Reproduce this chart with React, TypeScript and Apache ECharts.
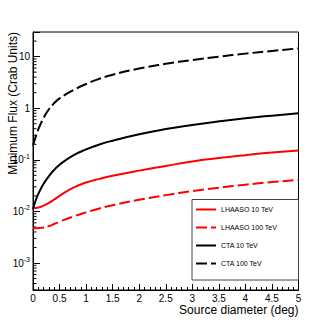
import React, { useEffect, useRef } from "react";
import * as echarts from "echarts";

const diameters = [0, 0.05, 0.1, 0.15, 0.2, 0.3, 0.4, 0.5, 0.75, 1, 1.25, 1.5, 2, 2.5, 3, 3.5, 4, 4.5, 5];
const lhaaso10 = [0.0116, 0.01167, 0.0119, 0.0123, 0.0129, 0.0146, 0.017, 0.02, 0.0285, 0.0363, 0.0427, 0.049, 0.0617, 0.076, 0.093, 0.108, 0.123, 0.138, 0.152];
const lhaaso100 = [0.0047, 0.0047, 0.00475, 0.0048, 0.0049, 0.0052, 0.0057, 0.0063, 0.0079, 0.0096, 0.0114, 0.0132, 0.0168, 0.0207, 0.0248, 0.0288, 0.033, 0.037, 0.041];
const cta10 = [0.011, 0.0163, 0.0219, 0.0279, 0.0344, 0.0485, 0.064, 0.0805, 0.1205, 0.159, 0.198, 0.235, 0.313, 0.394, 0.474, 0.557, 0.64, 0.718, 0.796];
const cta100 = [0.19, 0.279, 0.389, 0.513, 0.653, 0.955, 1.259, 1.549, 2.213, 2.951, 3.715, 4.467, 5.888, 7.244, 8.61, 10.0, 11.43, 12.88, 14.45];

const seriesNames = ["LHAASO 10 TeV", "LHAASO 100 TeV", "CTA 10 TeV", "CTA 100 TeV"];
const xTitle = "Source diameter (deg)";
const yTitle = "Minimum Flux (Crab Units)";
const yMin = 3e-4;
const yMax = 30;
const minorMultipliers = [2, 3, 4, 5, 6, 7, 8, 9];
const decades = [1e-4, 1e-3, 1e-2, 1e-1, 1, 10];

const FONT = "'Liberation Sans', Arial, Helvetica, sans-serif";

export default function App() {
  const ref = useRef<HTMLDivElement>(null);
  useEffect(() => {
    if (!ref.current) return;
    const chart = echarts.init(ref.current, null, { renderer: "svg" });
    const pairs = (ys: number[]) => diameters.map((d, i) => [d, ys[i]]);
    const minorVals: number[][] = [];
    decades.forEach((dec) =>
      minorMultipliers.forEach((m) => {
        const v = m * dec;
        if (v > yMin && v < yMax) minorVals.push([0, v]);
      })
    );
    const lineSeries = (name: string, ys: number[], color: string, dashed: boolean) => ({
      name,
      type: "line",
      data: pairs(ys),
      symbol: "none",
      showSymbol: false,
      smooth: 0.5,
      lineStyle: { color, width: 2, type: dashed ? [11, 4] : "solid" },
      itemStyle: { color },
      z: 3,
    });
    chart.setOption({
      animation: false,
      textStyle: { fontFamily: FONT },
      grid: {
        left: 33,
        right: 33.5,
        top: 32,
        bottom: 33,
        show: true,
        borderColor: "#000",
        borderWidth: 1,
        backgroundColor: "transparent",
      },
      xAxis: {
        type: "value",
        min: 0,
        max: 5,
        interval: 0.5,
        axisLine: { show: true, lineStyle: { color: "#000", width: 1 } },
        axisTick: { show: true, inside: true, length: 6, lineStyle: { color: "#000" } },
        minorTick: { show: true, splitNumber: 5, length: 3, lineStyle: { color: "#000" } },
        splitLine: { show: false },
        minorSplitLine: { show: false },
        axisLabel: { color: "#000", fontSize: 10, margin: 3, fontFamily: FONT, showMinLabel: true, showMaxLabel: true },
      },
      yAxis: {
        type: "log",
        logBase: 10,
        min: yMin,
        max: yMax,
        axisLine: { show: true, lineStyle: { color: "#000", width: 1 } },
        axisTick: { show: true, inside: true, length: 7, lineStyle: { color: "#000" } },
        splitLine: { show: false },
        axisLabel: {
          color: "#000",
          fontSize: 10,
          margin: 3,
          fontFamily: FONT,
          formatter: (v: number) => {
            const e = Math.log10(v);
            const r = Math.round(e);
            if (Math.abs(e - r) > 1e-6) return "";
            if (r === 0) return "1";
            if (r === 1) return "10";
            return "{b|10}{s|" + r + "}";
          },
          rich: {
            b: { fontSize: 10, color: "#000", fontFamily: FONT },
            s: { fontSize: 7, color: "#000", fontFamily: FONT, padding: [0, 0, 7, 0] },
          },
        },
      },
      legend: {
        data: seriesNames,
        orient: "vertical",
        left: 195,
        top: 205.5,
        itemWidth: 20,
        itemHeight: 10,
        itemGap: 10,
        padding: 0,
        itemStyle: { opacity: 0 },
        textStyle: { fontSize: 7, color: "#000", fontFamily: FONT },
      },
      graphic: [
        {
          type: "rect",
          shape: { x: 192, y: 199.5, width: 106.5, height: 80.5 },
          style: { fill: "none", stroke: "#444", lineWidth: 1 },
          z: 0,
          silent: true,
        },
        {
          type: "text",
          x: 298.5,
          y: 310,
          style: { text: xTitle, align: "right", verticalAlign: "middle", fontSize: 12, fill: "#000", fontFamily: FONT },
        },
        {
          type: "text",
          x: 13,
          y: 32,
          rotation: Math.PI / 2,
          style: { text: yTitle, align: "right", verticalAlign: "middle", fontSize: 12, fill: "#000", fontFamily: FONT },
        },
      ],
      series: [
        lineSeries(seriesNames[0], lhaaso10, "#ff0000", false),
        lineSeries(seriesNames[1], lhaaso100, "#ff0000", true),
        lineSeries(seriesNames[2], cta10, "#000000", false),
        lineSeries(seriesNames[3], cta100, "#000000", true),
        {
          name: "minorTicks",
          type: "custom",
          data: minorVals,
          clip: false,
          silent: true,
          renderItem: (_p: any, api: any) => {
            const pt = api.coord([0, api.value(1)]);
            return {
              type: "line",
              shape: { x1: pt[0], y1: pt[1], x2: pt[0] + 3.5, y2: pt[1] },
              style: { stroke: "#000", lineWidth: 1 },
            };
          },
        },
      ],
    });
    return () => chart.dispose();
  }, []);
  return <div ref={ref} style={{ width: 332, height: 323, position: "absolute", left: 0, top: 0 }} />;
}
